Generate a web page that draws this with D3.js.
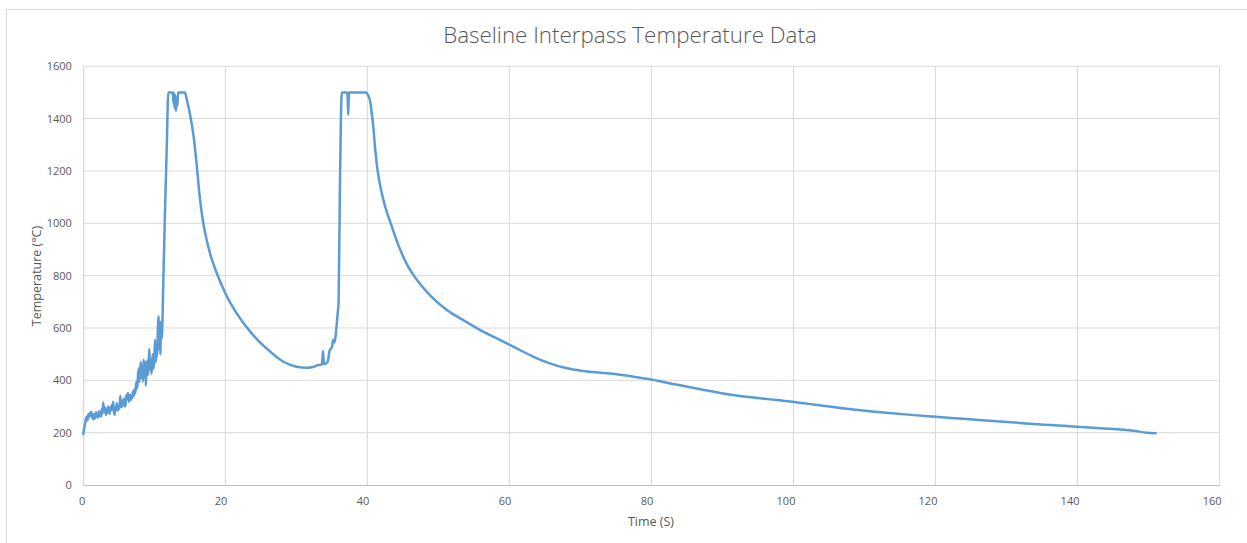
<!DOCTYPE html>
<html>
<head>
<meta charset="utf-8">
<script src="https://cdn.jsdelivr.net/npm/d3@7/dist/d3.min.js"></script>
<style>
  html, body { margin: 0; padding: 0; background: #fff; }
  svg { display: block; }
  text { font-family: "Open Sans", "Liberation Sans", sans-serif; }
</style>
</head>
<body>
<svg id="chart" width="1247" height="543"></svg>
<script>
// ---- Data ----
const chartTitle = "Baseline Interpass Temperature Data";
const xAxisTitle = "Time (S)";
const yAxisTitle = "Temperature (°C)";
const xTicks = [0, 20, 40, 60, 80, 100, 120, 140, 160];
const yTicks = [0, 200, 400, 600, 800, 1000, 1200, 1400, 1600];

const timeS = [
  0.0, 0.1, 0.2, 0.3, 0.4, 0.5, 0.6, 0.7, 0.8, 0.9,
  1.0, 1.1, 1.2, 1.3, 1.4, 1.5, 1.6, 1.7, 1.8, 1.9,
  2.0, 2.1, 2.2, 2.3, 2.4, 2.5, 2.6, 2.7, 2.8, 2.9,
  3.0, 3.1, 3.2, 3.3, 3.4, 3.5, 3.6, 3.7, 3.8, 3.9,
  4.0, 4.1, 4.2, 4.3, 4.4, 4.5, 4.6, 4.7, 4.8, 4.9,
  5.0, 5.1, 5.2, 5.3, 5.4, 5.5, 5.6, 5.7, 5.8, 5.9,
  6.0, 6.1, 6.2, 6.3, 6.4, 6.5, 6.6, 6.7, 6.8, 6.9,
  7.0, 7.1, 7.2, 7.3, 7.4, 7.5, 7.6, 7.7, 7.8, 7.9,
  8.0, 8.1, 8.2, 8.3, 8.4, 8.5, 8.6, 8.7, 8.8, 8.9,
  9.0, 9.1, 9.2, 9.3, 9.4, 9.5, 9.6, 9.7, 9.8, 9.9,
  10.0, 10.1, 10.2, 10.3, 10.4, 10.5, 10.6, 10.65, 10.75, 10.85,
  10.95, 11.05, 11.27, 11.5, 11.75, 11.97,
  12.3, 12.6, 12.7, 12.75, 12.85, 12.95, 13.05, 13.15, 13.25, 13.35,
  14.3, 14.6, 15.0, 15.5, 16.0, 16.4, 16.9, 17.3, 17.85, 18.8,
  20.0, 21.6, 23.5, 25.8, 28.2, 30.0, 31.5, 32.5, 33.0, 33.6,
  33.75, 33.9, 34.4, 34.7, 35.0, 35.2, 35.4, 35.6, 35.8, 35.95,
  36.15, 36.4, 37.2, 37.3, 37.4, 39.8, 40.1, 40.4, 40.6, 40.8,
  41.05, 41.4, 41.8, 42.3, 42.8, 43.3, 44.1, 45.5, 47.0, 48.8, 51.2,
  53.5, 55.9, 58.2, 60.6, 63.4, 65.7, 68.1, 70.4, 72.8, 75.1,
  77.5, 79.8, 82.2, 86.9, 91.5, 94.0, 98.0, 102.8, 107.5, 112.2,
  117.0, 120.0, 124.4, 129.1, 133.8, 139.9, 143.2, 147.9, 149.8, 151.0
];
const tempC = [
  195, 212, 228, 240, 255, 262, 248, 270, 260, 275,
  268, 280, 258, 272, 250, 262, 270, 255, 278, 262,
  270, 258, 282, 266, 275, 262, 290, 272, 315, 285,
  278, 295, 268, 288, 276, 300, 282, 272, 296, 285,
  305, 288, 318, 282, 268, 295, 285, 312, 298, 285,
  305, 292, 340, 310, 298, 322, 305, 330, 312, 300,
  325, 345, 330, 352, 318, 335, 345, 325, 342, 332,
  358, 340, 365, 350, 378, 395, 370, 420, 445, 395,
  430, 470, 410, 455, 395, 480, 420, 470, 380, 445,
  475, 420, 460, 520, 440, 480, 425, 470, 500, 445,
  480, 555, 470, 520, 490, 600, 645, 520, 580, 500,
  625, 560, 780, 1040, 1290, 1500,
  1500, 1500, 1460, 1500, 1440, 1490, 1430, 1480, 1450, 1500,
  1500, 1470, 1420, 1340, 1215, 1100, 1000, 945, 885, 809,
  733, 656, 586, 522, 471, 452, 448, 452, 458, 460,
  512, 462, 470, 515, 525, 555, 545, 590, 650, 700,
  1165, 1500, 1500, 1415, 1500, 1500, 1490, 1465, 1425, 1380,
  1300, 1210, 1145, 1085, 1038, 1000, 936, 847, 783, 726, 669,
  630, 592, 561, 528, 490, 465, 446, 436, 429, 423,
  414, 404, 391, 366, 344, 335, 324, 308, 291, 278,
  267, 261, 252, 243, 233, 223, 217, 207, 200, 198
];

// ---- Layout ----
const plot = { left: 83.3, right: 1219.5, top: 66.3, bottom: 485 };

const svg = d3.select("#chart");

// chart area border (Excel style)
svg.append("rect")
  .attr("x", 6.5).attr("y", 9.5)
  .attr("width", 1260).attr("height", 560)
  .attr("fill", "#fff").attr("stroke", "#D9D9D9").attr("stroke-width", 1);

const x = d3.scaleLinear().domain([0, 160]).range([plot.left, plot.right]);
const y = d3.scaleLinear().domain([0, 1600]).range([plot.bottom, plot.top]);

// gridlines
svg.append("g").selectAll("line").data(xTicks).join("line")
  .attr("x1", d => x(d)).attr("x2", d => x(d))
  .attr("y1", plot.top).attr("y2", plot.bottom)
  .attr("stroke", "#D9D9D9").attr("stroke-width", 1);

svg.append("g").selectAll("line").data(yTicks.filter(d => d > 0)).join("line")
  .attr("x1", plot.left).attr("x2", plot.right)
  .attr("y1", d => y(d)).attr("y2", d => y(d))
  .attr("stroke", "#D9D9D9").attr("stroke-width", 1);

// x axis (bottom)
const xAxis = d3.axisBottom(x).tickValues(xTicks).tickFormat(d3.format("d")).tickSize(0).tickPadding(0);
const xg = svg.append("g").attr("transform", `translate(0,${plot.bottom})`).call(xAxis);
xg.select(".domain").attr("stroke", "#BFBFBF").attr("stroke-width", 1.2);
xg.selectAll(".tick text")
  .attr("fill", "#595959").attr("font-size", 11)
  .attr("text-anchor", "end")
  .attr("dx", 1.5)
  .attr("y", 20).attr("dy", 0);

// y axis (left)
const yAxis = d3.axisLeft(y).tickValues(yTicks).tickFormat(d3.format("d")).tickSize(0).tickPadding(11.5);
const yg = svg.append("g").attr("transform", `translate(${plot.left},0)`).call(yAxis);
yg.select(".domain").attr("stroke", "#D9D9D9");
yg.selectAll(".tick text").attr("fill", "#595959").attr("font-size", 11);

// line
const pts = timeS.map((t, i) => [t, tempC[i]]);
const line = d3.line().x(d => x(d[0])).y(d => y(d[1])).curve(d3.curveMonotoneX);
svg.append("path")
  .datum(pts)
  .attr("d", line)
  .attr("fill", "none")
  .attr("stroke", "#5B9BD5")
  .attr("stroke-width", 2.5)
  .attr("stroke-linejoin", "round")
  .attr("stroke-linecap", "round");

// title
const title = svg.append("text")
  .attr("x", 630).attr("y", 43)
  .attr("text-anchor", "middle")
  .attr("fill", "#595959")
  .attr("font-size", 19)
  .attr("font-weight", 300)
  .text(chartTitle);
const tw = title.node().getComputedTextLength();
title.attr("font-size", 19 * 374 / tw);

// axis titles
svg.append("text")
  .attr("x", 651).attr("y", 526)
  .attr("text-anchor", "middle")
  .attr("fill", "#595959").attr("font-size", 12.5)
  .text(xAxisTitle);

svg.append("text")
  .attr("transform", `translate(41,276) rotate(-90)`)
  .attr("text-anchor", "middle")
  .attr("fill", "#595959").attr("font-size", 12.5)
  .text(yAxisTitle);
</script>
</body>
</html>
